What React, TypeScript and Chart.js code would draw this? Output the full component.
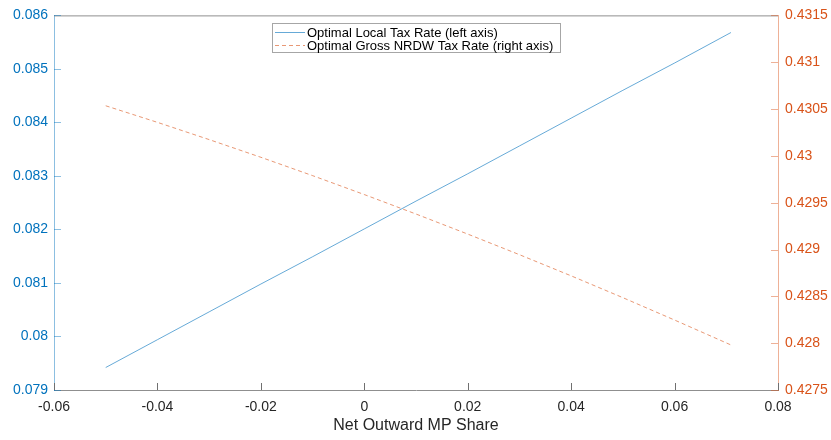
import React, { useEffect, useRef } from "react";
import { Chart, registerables } from "chart.js";

Chart.register(...registerables);

const xValues = [-0.05, -0.04, -0.03, -0.02, -0.01, 0, 0.01, 0.02, 0.03, 0.04, 0.05, 0.06, 0.0709];
const localTaxRate = [0.07942, 0.07994, 0.08046, 0.08098, 0.08149, 0.08201, 0.08253, 0.08304, 0.08356, 0.08408, 0.0846, 0.08511, 0.08568];
const grossNrdwTaxRate = [0.430535, 0.430358, 0.430174, 0.429985, 0.429789, 0.429587, 0.429379, 0.429165, 0.428945, 0.428719, 0.428486, 0.428247, 0.427981];

const seriesLabels = ["Optimal Local Tax Rate (left axis)", "Optimal Gross NRDW Tax Rate (right axis)"];
const xTitle = "Net Outward MP Share";

const BLUE = "#0072BD";
const ORANGE = "#D95319";
const BLUE_LINE = "rgba(0,114,189,0.6)";
const ORANGE_LINE = "rgba(217,83,25,0.6)";
const AXIS_GRAY = "#8f8f8f";
const FONT = "'Liberation Sans', Arial, Helvetica, sans-serif";

const fmt = (v: number) => String(parseFloat(Number(v).toFixed(4)));

const decorPlugin = {
  id: "decor",
  afterDraw(chart: any) {
    const ctx = chart.ctx as CanvasRenderingContext2D;
    const { left, right, top, bottom } = chart.chartArea;
    ctx.save();
    // top border
    ctx.strokeStyle = AXIS_GRAY;
    ctx.lineWidth = 1;
    ctx.beginPath();
    ctx.moveTo(left, top + 0.5);
    ctx.lineTo(right, top + 0.5);
    ctx.stroke();
    // inward ticks
    const tickLen = 7;
    const xs = chart.scales.x;
    ctx.strokeStyle = "#707070";
    xs.ticks.forEach((t: any) => {
      const px = Math.round(xs.getPixelForValue(t.value)) + 0.5;
      ctx.beginPath();
      ctx.moveTo(px, bottom);
      ctx.lineTo(px, bottom - tickLen);
      ctx.stroke();
    });
    const yl = chart.scales.yL;
    ctx.strokeStyle = "rgba(0,114,189,0.45)";
    yl.ticks.forEach((t: any) => {
      const py = Math.round(yl.getPixelForValue(t.value)) + 0.5;
      ctx.beginPath();
      ctx.moveTo(left, py);
      ctx.lineTo(left + tickLen, py);
      ctx.stroke();
    });
    const yr = chart.scales.yR;
    ctx.strokeStyle = "rgba(217,83,25,0.45)";
    yr.ticks.forEach((t: any) => {
      const py = Math.round(yr.getPixelForValue(t.value)) + 0.5;
      ctx.beginPath();
      ctx.moveTo(right, py);
      ctx.lineTo(right - tickLen, py);
      ctx.stroke();
    });
    // x title
    ctx.fillStyle = "#262626";
    ctx.font = `16px ${FONT}`;
    ctx.textAlign = "center";
    ctx.textBaseline = "middle";
    ctx.fillText(xTitle, (left + right) / 2, 426);
    // legend
    const bx = 272.5, by = 23.5, bw = 288, bh = 29;
    ctx.fillStyle = "#ffffff";
    ctx.fillRect(bx, by, bw, bh);
    ctx.strokeStyle = "#a6a6a6";
    ctx.lineWidth = 1;
    ctx.strokeRect(bx, by, bw, bh);
    ctx.font = `13px ${FONT}`;
    ctx.textAlign = "left";
    ctx.fillStyle = "#000000";
    const rows = [32, 45];
    ctx.lineWidth = 1;
    ctx.strokeStyle = BLUE_LINE;
    ctx.beginPath();
    ctx.moveTo(275, rows[0] + 0.5);
    ctx.lineTo(305, rows[0] + 0.5);
    ctx.stroke();
    ctx.strokeStyle = ORANGE_LINE;
    ctx.setLineDash([4, 3]);
    ctx.beginPath();
    ctx.moveTo(275, rows[1] + 0.5);
    ctx.lineTo(305, rows[1] + 0.5);
    ctx.stroke();
    ctx.setLineDash([]);
    ctx.fillText(seriesLabels[0], 307, rows[0] + 1);
    ctx.fillText(seriesLabels[1], 307, rows[1] + 1);
    ctx.restore();
  },
};

export default function App() {
  const ref = useRef<HTMLCanvasElement | null>(null);
  useEffect(() => {
    if (!ref.current) return;
    const chart = new Chart(ref.current, {
      type: "line",
      data: {
        datasets: [
          {
            label: seriesLabels[0],
            data: xValues.map((x, i) => ({ x, y: localTaxRate[i] })),
            yAxisID: "yL",
            borderColor: BLUE_LINE,
            borderWidth: 1,
            pointRadius: 0,
            fill: false,
            tension: 0,
          },
          {
            label: seriesLabels[1],
            data: xValues.map((x, i) => ({ x, y: grossNrdwTaxRate[i] })),
            yAxisID: "yR",
            borderColor: ORANGE_LINE,
            borderWidth: 1,
            borderDash: [4, 3],
            pointRadius: 0,
            fill: false,
            tension: 0,
          },
        ],
      },
      options: {
        animation: false,
        responsive: false,
        devicePixelRatio: 1,
        layout: { padding: { top: 10, left: 0, right: 0, bottom: 0 } },
        plugins: { legend: { display: false }, tooltip: { enabled: false } },
        scales: {
          x: {
            type: "linear",
            min: -0.06,
            max: 0.08,
            ticks: {
              stepSize: 0.02,
              autoSkip: false,
              maxRotation: 0,
              padding: 9,
              color: "#262626",
              font: { family: FONT, size: 14 },
              callback: (v: any) => fmt(v),
            },
            grid: { display: false, drawTicks: false },
            border: { display: true, color: AXIS_GRAY, width: 1 },
            afterFit: (s: any) => { s.height = 50; },
          },
          yL: {
            type: "linear",
            position: "left",
            min: 0.079,
            max: 0.086,
            ticks: {
              stepSize: 0.001,
              autoSkip: false,
              padding: 6,
              color: BLUE,
              font: { family: FONT, size: 14 },
              callback: (v: any) => fmt(v),
            },
            grid: { display: false, drawTicks: false },
            border: { display: true, color: "rgba(0,114,189,0.45)", width: 1 },
            afterFit: (s: any) => { s.width = 54; },
          },
          yR: {
            type: "linear",
            position: "right",
            min: 0.4275,
            max: 0.4315,
            ticks: {
              stepSize: 0.0005,
              autoSkip: false,
              padding: 7,
              color: ORANGE,
              font: { family: FONT, size: 14 },
              callback: (v: any) => fmt(v),
            },
            grid: { display: false, drawTicks: false },
            border: { display: true, color: "rgba(217,83,25,0.45)", width: 1 },
            afterFit: (s: any) => { s.width = 53; },
          },
        },
      },
      plugins: [decorPlugin],
    } as any);
    return () => chart.destroy();
  }, []);
  return (
    <div style={{ position: "absolute", left: 0, top: 0, width: 831, height: 440, background: "#ffffff" }}>
      <canvas ref={ref} width={831} height={440} style={{ width: 831, height: 440, display: "block" }} />
    </div>
  );
}
